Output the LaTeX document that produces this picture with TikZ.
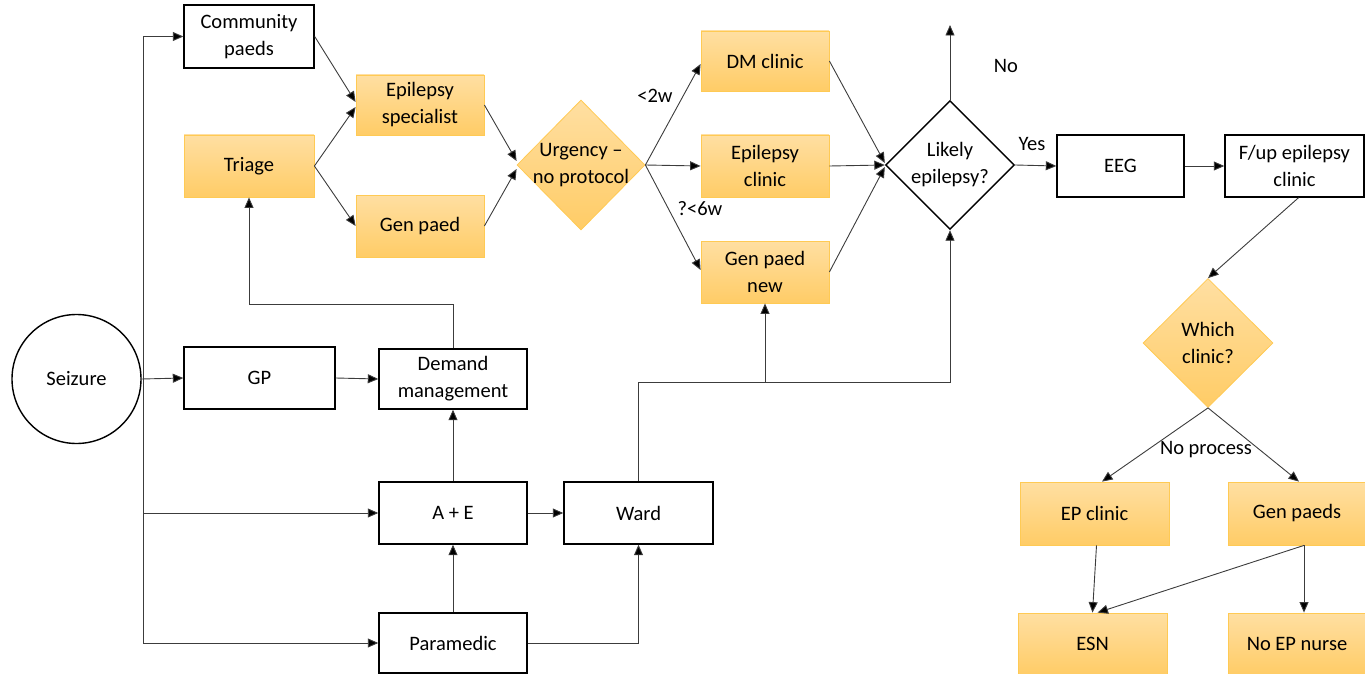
\documentclass[tikz,border=0pt]{standalone}
\usepackage{fontspec}
\setmainfont{Carlito}
\usetikzlibrary{arrows.meta,shapes.geometric}
\definecolor{ortop}{RGB}{255,223,162}
\definecolor{orbot}{RGB}{255,204,102}
\definecolor{orline}{RGB}{255,202,84}
\definecolor{conncol}{RGB}{60,60,60}
\begin{document}
\begin{tikzpicture}[x=1pt,y=-1pt,
  font=\fontsize{20.5}{27}\selectfont,
  bbox/.style={draw=black, line width=1.4pt, fill=white, align=center, inner sep=0pt},
  obox/.style={draw=orline, line width=0.8pt, top color=ortop, bottom color=orbot, align=center, inner sep=0pt},
  ddiam/.style={diamond, inner sep=-30pt, align=center},
  conn/.style={draw=conncol, line width=0.9pt, -{Triangle[length=10.5pt,width=9pt,fill=black]}},
  plain/.style={draw=conncol, line width=0.9pt},
  lbl/.style={inner sep=0pt}]
\useasboundingbox (0,0) rectangle (1365,674);

% nodes
\node[circle, draw=black, line width=1.4pt, minimum size=129pt, inner sep=0pt] (seiz) at (76.5,379) {Seizure};
\node[bbox, minimum width=130pt, minimum height=63pt] (cp) at (249,36.5) {Community\\paeds};
\node[obox, minimum width=130pt, minimum height=62pt] (tri) at (249,166) {Triage};
\node[obox, minimum width=128pt, minimum height=60pt] (esp) at (420,105) {Epilepsy\\specialist};
\node[obox, minimum width=128pt, minimum height=62pt] (gpd) at (420,226) {Gen paed};
\node[obox, ddiam, minimum width=128pt, minimum height=130pt] (urg) at (581,165) {Urgency –\\no protocol};
\node[obox, minimum width=128pt, minimum height=60pt] (dmc) at (765,61) {DM clinic};
\node[obox, minimum width=128pt, minimum height=62pt] (epc) at (765,166) {Epilepsy\\clinic};
\node[obox, minimum width=128pt, minimum height=62pt] (gpn) at (765,272) {Gen paed\\new};
\node[bbox, ddiam, minimum width=129pt, minimum height=129pt] (lik) at (950,165) {Likely\\epilepsy?};
\node[bbox, minimum width=127pt, minimum height=62pt] (eeg) at (1120.5,166) {EEG};
\node[bbox, minimum width=139pt, minimum height=62pt] (fup) at (1294.5,166) {F/up epilepsy\\clinic};
\node[obox, ddiam, minimum width=130pt, minimum height=129pt] (wc) at (1208,343) {Which\\clinic?};
\node[obox, minimum width=149pt, minimum height=63pt] (epcl) at (1094.5,513.5) {EP clinic};
\node[obox, minimum width=138pt, minimum height=63pt] (gps) at (1297,513.5) {Gen paeds};
\node[obox, minimum width=149pt, minimum height=62pt] (esn) at (1092.5,644) {ESN};
\node[obox, minimum width=138pt, minimum height=62pt] (nep) at (1297,644) {No EP nurse};

\node[bbox, minimum width=151pt, minimum height=62pt] (gp) at (259.5,378) {GP};
\node[bbox, minimum width=148pt, minimum height=60pt] (dmg) at (453,379) {Demand\\management};
\node[bbox, minimum width=148pt, minimum height=62pt] (ae) at (453,513) {A + E};
\node[bbox, minimum width=149pt, minimum height=62pt] (ward) at (638.5,513) {Ward};
\node[bbox, minimum width=148pt, minimum height=60pt] (para) at (453,643) {Paramedic};

% labels
\node[lbl] (l2w) at (655,96) {<2w};
\node[lbl] (l6w) at (700,209) {?<6w};
\node[lbl] (lno) at (1006,66) {No};
\node[lbl] (lyes) at (1032,144) {Yes};
\node[lbl] (lnop) at (1206,450) {No process};

% coordinates
\coordinate (trk) at (143,378);
\coordinate (noend) at (950,25);
\coordinate (dmtop) at (453,304);
\coordinate (wj) at (765,382);

% left part
\draw[conn] (trk) |- (cp.west);
\draw[conn] (trk) |- (ae.west);
\draw[conn] (trk) |- (para.west);
\draw[conn] (seiz.east) -- (gp.west);
\draw[conn] (gp.east) -- (dmg.west);
\draw[conn] (ae.north) -- (dmg.south);
\draw[conn] (para.north) -- (ae.south);
\draw[conn] (ae.east) -- (ward.west);
\draw[conn] (para.east) -| (ward.south);
\draw[conn] (dmg.north) -- (dmtop) -| (tri.south);
\draw[conn] (ward.north) |- (wj) -- (gpn.south);
\draw[conn] (wj) -| (lik.south);

% top part
\draw[conn] (cp.east) -- ([yshift=3pt]esp.west);
\draw[conn] (tri.east) -- ([yshift=-2pt]esp.west);
\draw[conn] (tri.east) -- (gpd.west);
\draw[conn] (esp.east) -- ([yshift=4pt]urg.west);
\draw[conn] (gpd.east) -- ([yshift=-4pt]urg.west);
\draw[conn] (urg.east) -- ([yshift=-3pt]dmc.west);
\draw[conn] (urg.east) -- (epc.west);
\draw[conn] (urg.east) -- ([yshift=2pt]gpn.west);
\draw[conn] (dmc.east) -- ([yshift=2pt]lik.west);
\draw[conn] (epc.east) -- (lik.west);
\draw[conn] (gpn.east) -- ([yshift=-2pt]lik.west);
\draw[conn] (lik.north) -- (noend);
\draw[conn] (lik.east) -- (eeg.west);
\draw[conn] (eeg.east) -- (fup.west);
\draw[conn] ([xshift=4pt]fup.south) -- (wc.north);
\draw[conn] (wc.south) -- ([xshift=7.5pt]epcl.north);
\draw[conn] (wc.south) -- ([xshift=2pt]gps.north);
\draw[conn] ([xshift=2pt]epcl.south) -- (esn.north);
\draw[conn] ([xshift=7pt]gps.south) -- ([xshift=5pt]esn.north);
\draw[conn] ([xshift=7pt]gps.south) -- ([xshift=7pt]nep.north);
\end{tikzpicture}
\end{document}
